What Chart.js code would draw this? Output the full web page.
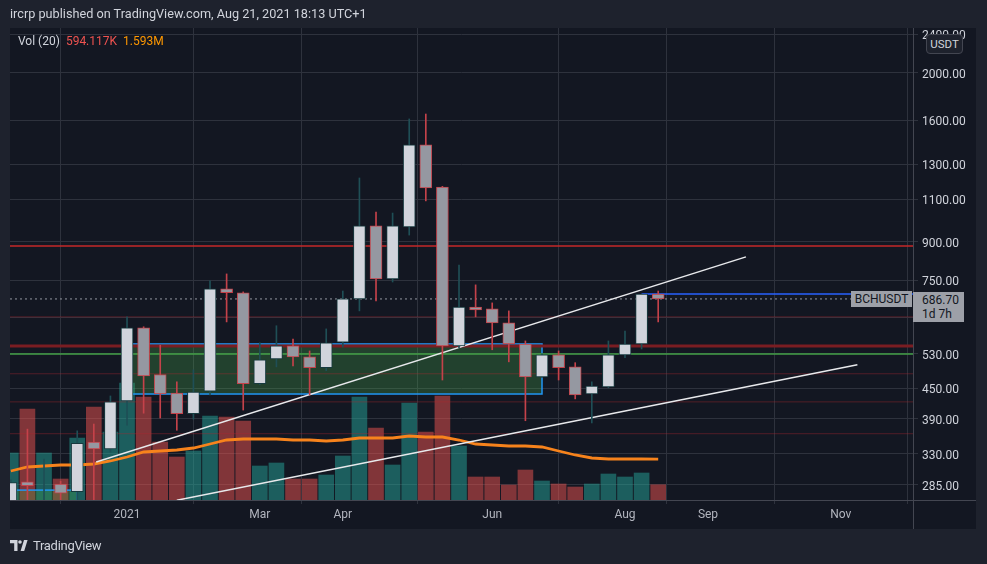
<!DOCTYPE html>
<html>
<head>
<meta charset="utf-8">
<title>BCHUSDT weekly</title>
<script src="https://cdn.jsdelivr.net/npm/chart.js@4.4.1/dist/chart.umd.min.js"></script>
<style>
    html, body { margin: 0; padding: 0; background: #1e222d; }
    #wrap { position: relative; width: 987px; height: 564px; overflow: hidden; font-family: Roboto, "Open Sans", sans-serif; }
    #panel { position: absolute; left: 10px; top: 28px; width: 966px; height: 501px; background: #131722; }
    #chart-box { position: absolute; left: 0; top: 0; width: 987px; height: 564px; }
    .header { position: absolute; left: 10px; top: 6px; color: #d1d4dc; font-size: 12.7px; white-space: nowrap; }
    .legend { position: absolute; left: 18px; top: 34px; font-size: 12px; color: #d1d4dc; white-space: nowrap; }
    .legend .v1 { color: #ef5350; margin-left: 6px; }
    .legend .v2 { color: #ff9800; margin-left: 6px; }
    .usdt { position: absolute; left: 926px; top: 34px; width: 35px; height: 18px; border: 1px solid #434651; border-radius: 4px;
            background: #1e222d; color: #d1d4dc; font-size: 11.5px; line-height: 18px; text-align: center; }
    .tag { position: absolute; background: #9da0a8; color: #131722; font-size: 12px; }
    #sym-tag { left: 851px; width: 61px; height: 16px; line-height: 16px; text-align: center; }
    #price-tag { left: 913px; width: 51px; height: 30px; line-height: 14px; padding-left: 9px; box-sizing: border-box; padding-top: 1px; }
    .logo { position: absolute; left: 10px; top: 538px; color: #d1d4dc; font-size: 13px; display: flex; align-items: center; gap: 5px; letter-spacing: -0.3px; }
</style>
</head>
<body>
<div id="wrap">
    <div id="panel"></div>
    <div id="chart-box"><canvas id="chart"></canvas></div>
    <div class="header">ircrp published on TradingView.com, Aug 21, 2021 18:13 UTC+1</div>
    <div class="legend">Vol (20)<span class="v1">594.117K</span><span class="v2">1.593M</span></div>
    <div class="usdt">USDT</div>
    <div class="tag" id="sym-tag">BCHUSDT</div>
    <div class="tag" id="price-tag">686.70<br>1d 7h</div>
    <div class="logo">
        <svg width="18" height="11" viewBox="0 0 18 11"><path d="M0 0H7.5V11H4.2V3.2H0Z M10.6 11L14 0H17.6L14.2 11Z" fill="#d1d4dc"/><circle cx="10" cy="2" r="1.8" fill="#d1d4dc"/></svg>
        <span>TradingView</span>
    </div>
</div>
<script>
// weekly candles, week starting (Monday)
const weeks = [
    "2020-11-16", "2020-11-23", "2020-11-30", "2020-12-07", "2020-12-14", "2020-12-21", "2020-12-28",
    "2021-01-04", "2021-01-11", "2021-01-18", "2021-01-25", "2021-02-01", "2021-02-08", "2021-02-15",
    "2021-02-22", "2021-03-01", "2021-03-08", "2021-03-15", "2021-03-22", "2021-03-29", "2021-04-05",
    "2021-04-12", "2021-04-19", "2021-04-26", "2021-05-03", "2021-05-10", "2021-05-17", "2021-05-24",
    "2021-05-31", "2021-06-07", "2021-06-14", "2021-06-21", "2021-06-28", "2021-07-05", "2021-07-12",
    "2021-07-19", "2021-07-26", "2021-08-02", "2021-08-09", "2021-08-16"
];
const opens = [
    258, 289, 255, 286, 276, 349, 338,
    424, 599, 480, 440, 399, 444, 720,
    707, 460, 517, 550, 522, 496, 560,
    687, 970, 755, 965, 1423, 1166, 550,
    661, 655, 613, 555, 475, 527, 498,
    438, 453, 527, 555, 703
];
const highs = [
    292, 371, 322, 290, 368, 380, 434,
    631, 602, 552, 464, 491, 748, 773,
    710, 558, 605, 568, 537, 596, 713,
    1217, 1036, 1031, 1609, 1647, 1170, 806,
    734, 674, 649, 563, 530, 537, 508,
    464, 563, 590, 703, 713
];
const lows = [
    250, 250, 248, 255, 262, 255, 333,
    378, 400, 391, 369, 389, 436, 616,
    406, 458, 498, 500, 436, 489, 547,
    649, 680, 744, 929, 1092, 468, 545,
    631, 540, 510, 386, 473, 468, 428,
    382, 451, 520, 542, 616
];
const closes = [
    288, 284, 262, 274, 347, 338, 422,
    599, 477, 438, 399, 442, 720, 707,
    460, 515, 550, 522, 496, 558, 687,
    970, 755, 970, 1423, 1161, 550, 661,
    652, 613, 555, 475, 527, 496, 436,
    455, 527, 555, 703, 686.7
];
// volume in thousands, and its 20 period average as shown
const volumes = [
    1833, 3549, 1833, 819, 2418, 3627, 2652,
    4563, 4017, 2262, 1677, 1911, 3276, 3237,
    3081, 1326, 1443, 819, 819, 975, 1716,
    4017, 2808, 1365, 3783, 2652, 4056, 2106,
    897, 897, 585, 1170, 741, 624, 507,
    624, 1014, 897, 1053, 594
];
const volumeMA = [
    1131, 1287, 1326, 1365, 1365, 1404, 1521,
    1677, 1872, 1911, 1950, 2028, 2184, 2340,
    2379, 2379, 2379, 2340, 2340, 2301, 2340,
    2418, 2418, 2418, 2496, 2457, 2457, 2340,
    2184, 2145, 2106, 2106, 2067, 1911, 1755,
    1638, 1599, 1599, 1599, 1593
];

const priceTicks = [285, 330, 390, 450, 530, 630, 750, 900, 1100, 1300, 1600, 2000, 2400];
const timeTickDates = ["2021-01-04", "2021-03-01", "2021-04-05", "2021-06-07", "2021-08-02", "2021-09-06", "2021-11-01"];
const timeTickLabels = ["2021", "Mar", "Apr", "Jun", "Aug", "Sep", "Nov"];

// drawings: levels, trend lines [date, price] pairs, boxes
const redLevel = 882;
const supportLevel = 550;
const greenLevel = 529;
const minorLevels = [631, 482, 422, 363];
const blueLevel = { from: "2021-08-09", price: 703 };
const trendUpper = [["2020-12-22", 317.6], ["2021-09-22", 838]];
const trendLower = [["2021-01-25", 265], ["2021-11-08", 503]];
const boxes = [
    { from: "2021-01-04", to: "2021-06-28", top: 555, bottom: 438 },
    { from: "2020-11-14", to: "2020-12-14", top: 278, bottom: 200 }
];

const weekNo = d => (Date.parse(d) - Date.parse("2021-01-04")) / 6048e5;
const X_MIN = -7.05;
const X_MAX = 47.35;
const Y_MIN = 265.3;
const Y_MAX = 2474;
const VOL_MAX = 18408;

document.addEventListener("DOMContentLoaded", function () {
    const xs = weeks.map(weekNo);
    const isUp = closes.map((c, i) => c >= opens[i]);
    const tickPos = timeTickDates.map(weekNo);

    const levelLine = (price, color, width, from, dash) => ({
        type: "line",
        data: [{ x: from === undefined ? X_MIN : from, y: price }, { x: X_MAX, y: price }],
        borderColor: color,
        borderWidth: width,
        borderDash: dash || [],
        pointRadius: 0,
        yAxisID: "y",
        order: 5
    });
    const trendLine = pts => ({
        type: "line",
        data: pts.map(p => ({ x: weekNo(p[0]), y: p[1] })),
        borderColor: "#e8e9ec",
        borderWidth: 1.5,
        pointRadius: 0,
        yAxisID: "y",
        order: 4
    });

    // boxes go between the volume pane and the candles
    const boxPlugin = {
        id: "boxes",
        afterDatasetDraw(chart, args) {
            if (chart.data.datasets[args.index].label !== "Vol MA") return;
            const { ctx, chartArea, scales } = chart;
            ctx.save();
            ctx.beginPath();
            ctx.rect(chartArea.left, chartArea.top, chartArea.width, chartArea.height);
            ctx.clip();
            boxes.forEach(b => {
                const x0 = scales.x.getPixelForValue(weekNo(b.from));
                const x1 = scales.x.getPixelForValue(weekNo(b.to));
                const y0 = scales.y.getPixelForValue(b.top);
                const y1 = scales.y.getPixelForValue(b.bottom);
                ctx.fillStyle = "rgba(76, 175, 80, 0.28)";
                ctx.fillRect(x0, y0, x1 - x0, y1 - y0);
                ctx.strokeStyle = "#2196f3";
                ctx.lineWidth = 1.5;
                ctx.strokeRect(x0, y0, x1 - x0, y1 - y0);
            });
            ctx.restore();
        },
        afterDraw(chart) {
            const { ctx, chartArea, scales } = chart;
            ctx.save();
            ctx.strokeStyle = "#434651";
            ctx.lineWidth = 1;
            ctx.beginPath();
            ctx.moveTo(chartArea.right + 0.5, chartArea.bottom);
            ctx.lineTo(chartArea.right + 0.5, chartArea.bottom + 29);
            ctx.moveTo(chartArea.right, chartArea.bottom + 0.5);
            ctx.lineTo(chartArea.right + 63, chartArea.bottom + 0.5);
            ctx.stroke();
            ctx.restore();
            const py = scales.y.getPixelForValue(closes[closes.length - 1]);
            document.getElementById("sym-tag").style.top = (py - 8) + "px";
            document.getElementById("price-tag").style.top = (py - 7) + "px";
        }
    };

    new Chart(document.getElementById("chart"), {
        type: "bar",
        data: {
            datasets: [
                {
                    label: "Volume",
                    data: xs.map((x, i) => ({ x: x, y: volumes[i] })),
                    yAxisID: "yv",
                    backgroundColor: isUp.map(u => u ? "rgba(38, 166, 154, 0.5)" : "rgba(239, 83, 80, 0.5)"),
                    barThickness: 15,
                    grouped: false,
                    order: 10
                },
                {
                    type: "line",
                    label: "Vol MA",
                    data: xs.map((x, i) => ({ x: x, y: volumeMA[i] })),
                    yAxisID: "yv",
                    borderColor: "#f7831c",
                    borderWidth: 2.8,
                    pointRadius: 0,
                    order: 9
                },
                levelLine(redLevel, "#c62828", 1.5),
                levelLine(supportLevel, "#7a1d22", 3),
                levelLine(greenLevel, "#43a047", 1.5),
                ...minorLevels.map(p => levelLine(p, "rgba(178, 40, 48, 0.4)", 1)),
                levelLine(blueLevel.price, "#2962ff", 1.5, weekNo(blueLevel.from)),
                levelLine(closes[closes.length - 1], "#9598a1", 1, X_MIN, [2, 3]),
                trendLine(trendUpper),
                trendLine(trendLower),
                {
                    label: "Wicks",
                    data: xs.map((x, i) => ({ x: x, y: [lows[i], highs[i]] })),
                    yAxisID: "y",
                    backgroundColor: isUp.map(u => u ? "#1f4f56" : "#c4424a"),
                    barThickness: 1,
                    grouped: false,
                    order: 2
                },
                {
                    label: "Bodies",
                    data: xs.map((x, i) => ({ x: x, y: [opens[i], closes[i]] })),
                    yAxisID: "y",
                    backgroundColor: isUp.map(u => u ? "#d1d4dc" : "#9598a1"),
                    borderColor: isUp.map(u => u ? "#173a3f" : "#c4424a"),
                    borderWidth: 1,
                    borderSkipped: false,
                    barThickness: 12,
                    grouped: false,
                    order: 1
                }
            ]
        },
        options: {
            responsive: true,
            maintainAspectRatio: false,
            animation: false,
            events: [],
            layout: { padding: { left: 10, top: 28, right: 11, bottom: 35 } },
            plugins: { legend: { display: false }, tooltip: { enabled: false } },
            scales: {
                x: {
                    type: "linear",
                    min: X_MIN,
                    max: X_MAX,
                    offset: false,
                    grid: { color: "#2e323d", tickLength: 4 },
                    border: { color: "#434651" },
                    afterBuildTicks: s => { s.ticks = tickPos.map(v => ({ value: v })); },
                    afterFit: s => { s.height = 29; s.paddingLeft = 0; s.paddingRight = 0; },
                    ticks: {
                        color: "#b2b5be",
                        font: { size: 12, family: "Roboto" },
                        padding: 4,
                        maxRotation: 0,
                        autoSkip: false,
                        callback: v => timeTickLabels[tickPos.indexOf(v)] || ""
                    }
                },
                y: {
                    type: "logarithmic",
                    position: "right",
                    min: Y_MIN,
                    max: Y_MAX,
                    grid: { color: "#2e323d", tickLength: 5 },
                    border: { color: "#434651" },
                    afterBuildTicks: s => { s.ticks = priceTicks.map(v => ({ value: v })); },
                    afterFit: s => { s.width = 63; s.paddingTop = 0; s.paddingBottom = 0; },
                    ticks: {
                        color: "#d1d4dc",
                        font: { size: 12, family: "Roboto" },
                        padding: 4,
                        labelOffset: 2,
                        autoSkip: false,
                        callback: v => v === 630 ? "" : v.toFixed(2)
                    }
                },
                yv: { display: false, min: 0, max: VOL_MAX }
            }
        },
        plugins: [boxPlugin]
    });
});
</script>
</body>
</html>
